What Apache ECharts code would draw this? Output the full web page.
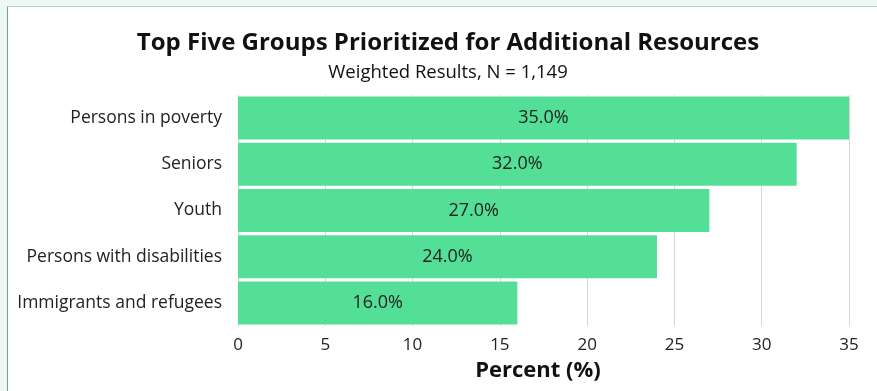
<!DOCTYPE html>
<html>
<head>
<meta charset="utf-8">
<script src="https://cdn.jsdelivr.net/npm/echarts@6/dist/echarts.min.js"></script>
<style>
  html, body { margin: 0; padding: 0; background: #eef7f4; width: 877px; height: 391px; overflow: hidden; }
  #frame { position: absolute; left: 7px; top: 6px; width: 870px; height: 385px;
           border-left: 1px solid #6fa3a3; border-top: 1px solid #b3d2d2; background: #fff; }
  #chart { width: 870px; height: 385px; }
</style>
</head>
<body>
<div id="frame"><div id="chart"></div></div>
<script>
const categories = ['Persons in poverty', 'Seniors', 'Youth', 'Persons with disabilities', 'Immigrants and refugees'];
const percentValues = [35.0, 32.0, 27.0, 24.0, 16.0];
const tickValues = [0, 5, 10, 15, 20, 25, 30, 35];

const titleText = 'Top Five Groups Prioritized for Additional Resources';
const subtitleText = 'Weighted Results, N = 1,149';
const axisTitle = 'Percent (%)';

const FONT = '"Open Sans", "Noto Sans", sans-serif';

const chart = echarts.init(document.getElementById('chart'));
chart.setOption({
  backgroundColor: '#ffffff',
  animation: false,
  graphic: [
    { type: 'text', x: 440, y: 36, style: { text: titleText, font: 'bold 24px ' + FONT, fill: '#111', textAlign: 'center', textVerticalAlign: 'middle' } },
    { type: 'text', x: 440, y: 66, style: { text: subtitleText, font: '18.5px ' + FONT, fill: '#111', textAlign: 'center', textVerticalAlign: 'middle' } },
    // x-axis title, placed under the tick labels
    { type: 'text', x: 530, y: 364, style: { text: axisTitle, font: 'bold 22px ' + FONT, fill: '#111', textAlign: 'center', textVerticalAlign: 'middle' } }
  ],
  grid: { left: 230, right: 29, top: 88, bottom: 66, containLabel: false },
  xAxis: {
    type: 'value',
    min: 0, max: 35, interval: 5,
    axisLine: { show: false },
    axisTick: { show: false },
    splitLine: { show: true, lineStyle: { color: '#d6d6d6', width: 1 } },
    axisLabel: {
      fontFamily: FONT, fontSize: 17, color: '#222', margin: 11,
      formatter: v => tickValues.includes(v) ? String(v) : ''
    }
  },
  yAxis: {
    type: 'category',
    data: categories,
    inverse: true,
    axisLine: { show: false },
    axisTick: { show: false },
    splitLine: { show: false },
    axisLabel: { fontFamily: FONT, fontSize: 17.5, color: '#222', margin: 16 }
  },
  series: [{
    type: 'bar',
    data: percentValues,
    barCategoryGap: '7%',
    itemStyle: { color: '#53df96' },
    label: {
      show: true,
      position: 'inside',
      fontFamily: FONT, fontSize: 18, color: '#222',
      formatter: p => p.value.toFixed(1) + '%'
    }
  }]
});
</script>
</body>
</html>
